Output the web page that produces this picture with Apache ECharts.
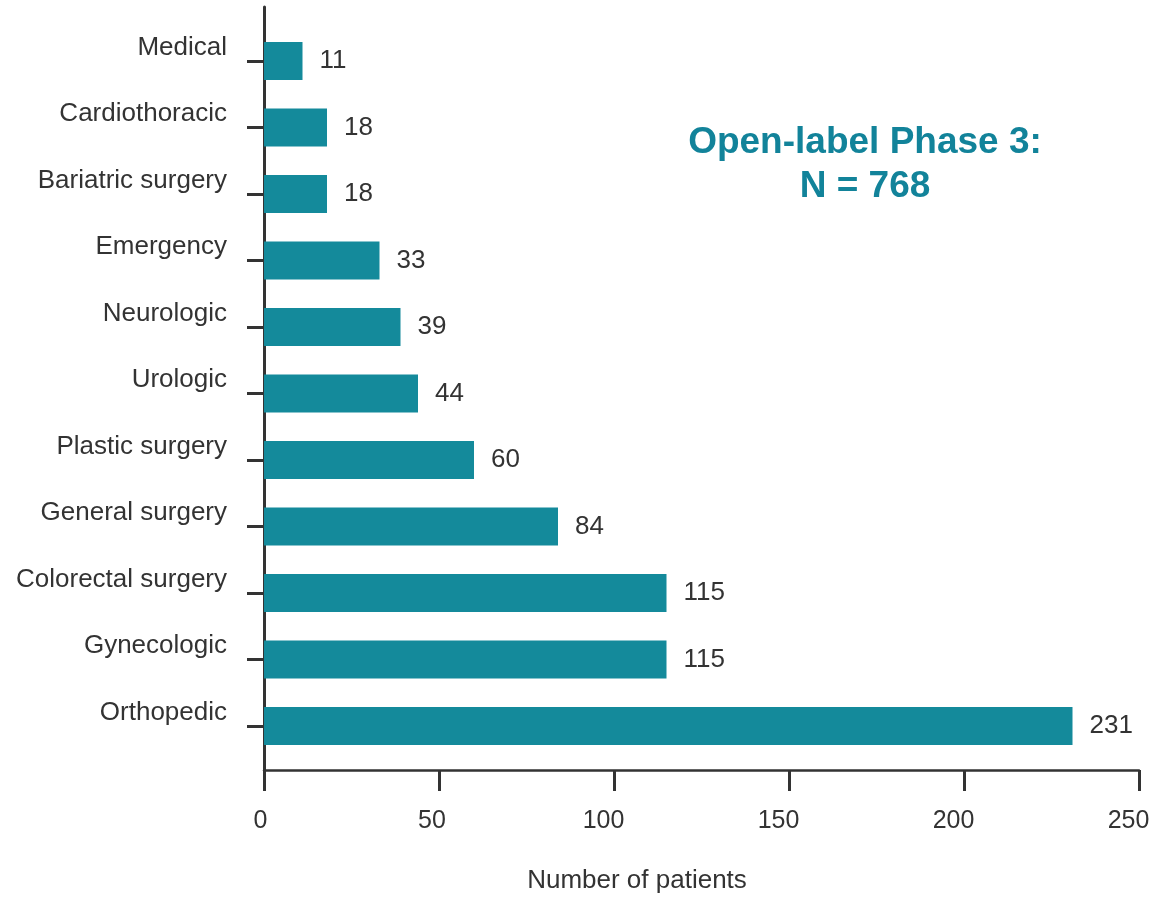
<!DOCTYPE html>
<html>
<head>
<meta charset="utf-8">
<script src="https://cdn.jsdelivr.net/npm/echarts@6/dist/echarts.min.js"></script>
<style>html,body{margin:0;padding:0;background:#fff;overflow:hidden}#c{width:1155px;height:902px}</style>
</head>
<body>
<div id="c"></div>
<script>
const categories = ["Medical","Cardiothoracic","Bariatric surgery","Emergency","Neurologic","Urologic","Plastic surgery","General surgery","Colorectal surgery","Gynecologic","Orthopedic"];
const patients = [11,18,18,33,39,44,60,84,115,115,231];
const xTicks = [0,50,100,150,200,250];
const titleText = "Open-label Phase 3:\nN = 768";
const xName = "Number of patients";

const FONT = 'Arial, "Liberation Sans", Helvetica, sans-serif';
const TXT = '#333333';
const BAR = '#148a9b';
const TEAL = '#12839a';

const tickRich = {};
[1,2,3].forEach(n => {
  tickRich['d' + n] = {fontSize:25, color:TXT, fontFamily:FONT, padding:[0, 7 * n, 0, 0]};
});

const chart = echarts.init(document.getElementById('c'), null, {renderer:'canvas', width:1155, height:902});
chart.setOption({
  animation:false,
  backgroundColor:'#ffffff',
  textStyle:{fontFamily:FONT},
  title:[
    {text:titleText,left:865,top:121,textAlign:'center',padding:0,
     textStyle:{fontSize:37,fontWeight:'bold',color:TEAL,lineHeight:44,fontFamily:FONT}},
    {text:xName,left:637,top:867,textAlign:'center',padding:0,
     textStyle:{fontSize:26,fontWeight:'normal',color:TXT,lineHeight:28,fontFamily:FONT}}
  ],
  grid:[
    {left:264,width:875,top:7,height:763,containLabel:false},
    {left:264,width:875,top:27.75,height:731.5,containLabel:false}
  ],
  xAxis:[
    {gridIndex:0,type:'value',min:xTicks[0],max:xTicks[xTicks.length-1],interval:50,
     axisLine:{show:true,lineStyle:{color:TXT,width:2.5}},
     axisTick:{show:true,length:21,lineStyle:{color:TXT,width:3}},
     axisLabel:{show:true,margin:39,fontSize:25,color:TXT,fontFamily:FONT,
       formatter:v => '{d' + String(v).length + '|' + v + '}', rich:tickRich},
     splitLine:{show:false}},
    {gridIndex:1,type:'value',min:xTicks[0],max:xTicks[xTicks.length-1],show:false,
     splitLine:{show:false}}
  ],
  yAxis:[
    {gridIndex:0,type:'value',min:0,max:1,
     axisLine:{show:true,lineStyle:{color:TXT,width:3}},
     axisTick:{show:false},axisLabel:{show:false},splitLine:{show:false}},
    {gridIndex:1,type:'category',data:categories,inverse:true,
     axisLine:{show:false},
     axisTick:{show:true,alignWithLabel:true,length:17,lineStyle:{color:TXT,width:3}},
     axisLabel:{show:true,margin:37,fontSize:26,color:TXT,fontFamily:FONT,
       verticalAlign:'bottom',lineHeight:27},
     splitLine:{show:false}}
  ],
  series:[{
    type:'bar',xAxisIndex:1,yAxisIndex:1,data:patients,barWidth:38,
    itemStyle:{color:BAR},
    label:{show:true,position:'right',distance:17,fontSize:26,color:TXT,fontFamily:FONT}
  }]
});
</script>
</body>
</html>
